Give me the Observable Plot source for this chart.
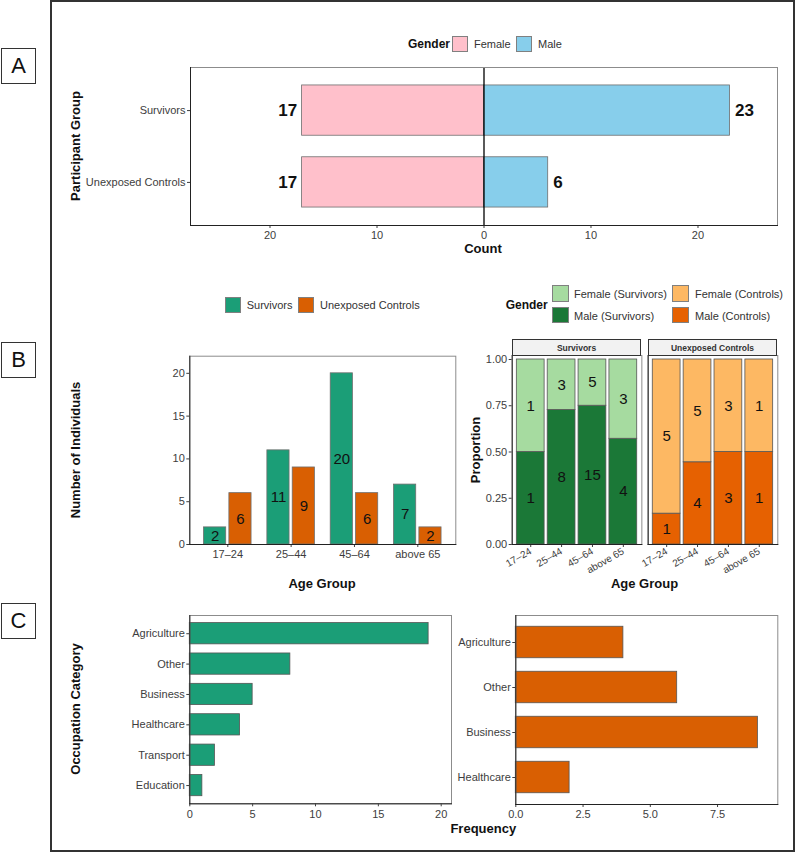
<!DOCTYPE html>
<html>
<head>
<meta charset="utf-8">
<script src="https://cdn.jsdelivr.net/npm/d3@7"></script>
<script src="https://cdn.jsdelivr.net/npm/@observablehq/plot@0.6"></script>
<style>
  body { margin: 0; background: #fff; font-family: "Liberation Sans", Arial, sans-serif; }
  #fig { position: relative; width: 797px; height: 853px; background: #fff; overflow: hidden; }
  #fig > * { position: absolute; }
  .txt { white-space: nowrap; line-height: 1; }
  .outer { left: 50px; top: 0; width: 745px; height: 852px; border: 2px solid #333; box-sizing: border-box; }
  .letter { width: 35px; height: 36px; box-sizing: border-box; border: 1px solid #333; font-size: 22px;
            display: flex; align-items: center; justify-content: center; color: #111; }
  .key { box-sizing: border-box; border: 1px solid #808080; }
  .strip { box-sizing: border-box; border: 1px solid #333; background: #f2f2f2; font-size: 8.5px; font-weight: bold;
           color: #333; display: flex; align-items: center; justify-content: center; }
</style>
</head>
<body>
<div id="fig"></div>
<script>
// ---- Data ----
const groups = ["Survivors", "Unexposed Controls"];
const femaleCounts = [17, 17];
const maleCounts = [23, 6];

const ageGroups = ["17–24", "25–44", "45–64", "above 65"];
const survivorsByAge = [2, 11, 20, 7];
const controlsByAge = [6, 9, 6, 2];

const survivorsMale = [1, 8, 15, 4];
const survivorsFemale = [1, 3, 5, 3];
const controlsMale = [1, 4, 3, 1];
const controlsFemale = [5, 5, 3, 1];

const genderCats = ["Female (Survivors)", "Male (Survivors)", "Female (Controls)", "Male (Controls)"];
const genderCatColors = ["#a6dba0", "#1b7837", "#fdb863", "#e66101"];

const occSurvivors = ["Agriculture", "Other", "Business", "Healthcare", "Transport", "Education"];
const occSurvivorsFreq = [19, 8, 5, 4, 2, 1];
const occControls = ["Agriculture", "Other", "Business", "Healthcare"];
const occControlsFreq = [4, 6, 9, 2];

const genderLabels = ["Female", "Male"];
const genderColors = ["#ffc0cb", "#87ceeb"];
const groupColors = ["#1b9e77", "#d95f02"];

// ---- Helpers ----
const fig = document.getElementById("fig");
function add(el, css) { Object.assign(el.style, css); fig.appendChild(el); return el; }
function div(cls, text) { const d = document.createElement("div"); d.className = cls; if (text != null) d.textContent = text; return d; }
function textAt(str, x, y, o = {}) {
  const t = o.rotate ? "translate(-50%,-50%) rotate(-90deg)" : (o.center ? "translate(-50%,-50%)" : "translate(0,-50%)");
  return add(div("txt", str), { left: x + "px", top: y + "px", fontSize: (o.size || 11) + "px",
    fontWeight: o.bold ? "bold" : "normal", color: o.color || "#333", transform: t });
}
function keyAt(color, x, y, w, h) {
  return add(div("key"), { left: x + "px", top: y + "px", width: w + "px", height: h + "px", background: color });
}
function mount(svg, x, y) { svg.style.left = x + "px"; svg.style.top = y + "px"; fig.appendChild(svg); }

const baseStyle = { fontFamily: "Liberation Sans, Arial, sans-serif", fontSize: "11px", color: "#3d3d3d",
                    background: "transparent", overflow: "visible" };
const panelFrame = () => [
  Plot.frame({ stroke: "#8c8c8c", strokeWidth: 1 }),
  Plot.frame({ anchor: "left", stroke: "#222", strokeWidth: 1 }),
  Plot.frame({ anchor: "bottom", stroke: "#222", strokeWidth: 1 })
];

// ---- Outer frame and panel letters ----
add(div("outer"), {});
[["A", 48], ["B", 342], ["C", 603]].forEach(([l, y]) => add(div("letter", l), { left: "1px", top: y + "px" }));

// ---- Panel A: diverging bars by gender ----
const aData = groups.flatMap((g, i) => [
  { group: g, gender: "Female", value: -femaleCounts[i], count: femaleCounts[i] },
  { group: g, gender: "Male", value: maleCounts[i], count: maleCounts[i] }
]);
mount(Plot.plot({
  width: 730, height: 210, marginLeft: 130, marginRight: 13, marginTop: 12, marginBottom: 40,
  style: baseStyle,
  x: { domain: [-27.43, 27.43], ticks: [-20, -10, 0, 10, 20], tickFormat: d => Math.abs(d), label: null, tickSize: 3, tickPadding: 3 },
  y: { domain: groups, paddingInner: 0.3, paddingOuter: 0.25, round: false, label: null, tickSize: 3, tickPadding: 2 },
  color: { domain: genderLabels, range: genderColors },
  marks: [
    Plot.barX(aData, { x1: 0, x2: "value", y: "group", fill: "gender", stroke: "#6e6e6e", strokeWidth: 0.8 }),
    Plot.ruleX([0], { stroke: "#000", strokeWidth: 1.3 }),
    Plot.text(aData.filter(d => d.gender === "Female"), { x: "value", y: "group", text: "count", textAnchor: "end", dx: -5,
      fontSize: 17, fontWeight: "bold", fill: "#111" }),
    Plot.text(aData.filter(d => d.gender === "Male"), { x: "value", y: "group", text: "count", textAnchor: "start", dx: 5,
      fontSize: 17, fontWeight: "bold", fill: "#111" }),
    ...panelFrame()
  ]
}), 60, 55);
textAt("Gender", 408, 44, { size: 12, bold: true, color: "#111" });
keyAt(genderColors[0], 452, 36, 16, 16); textAt(genderLabels[0], 474, 44);
keyAt(genderColors[1], 516, 36, 16, 16); textAt(genderLabels[1], 538, 44);
textAt("Participant Group", 75, 146, { size: 13, bold: true, rotate: true, color: "#111" });
textAt("Count", 483, 248, { size: 13, bold: true, center: true, color: "#111" });

// ---- Panel B (left): dodged bars by age group ----
const bW = 400, bML = 129.3, bMR = 4.7;
const bStep = (bW - bML - bMR) / 4.2;
const survAge = ageGroups.map((a, i) => ({ age: a, count: survivorsByAge[i] }));
const ctrlAge = ageGroups.map((a, i) => ({ age: a, count: controlsByAge[i] }));
mount(Plot.plot({
  width: bW, height: 270, marginLeft: bML, marginRight: bMR, marginTop: 30.7, marginBottom: 51,
  style: baseStyle,
  x: { domain: ageGroups, paddingInner: 0, paddingOuter: 0.1, round: false, label: null, tickSize: 3, tickPadding: 3 },
  y: { domain: [0, 22], ticks: [0, 5, 10, 15, 20], label: null, tickSize: 3, tickPadding: 2 },
  marks: [
    Plot.barY(survAge, { x: "age", y: "count", fill: groupColors[0], stroke: "#6e6e6e", strokeWidth: 0.8,
      insetLeft: bStep * 0.125, insetRight: bStep * 0.525 }),
    Plot.barY(ctrlAge, { x: "age", y: "count", fill: groupColors[1], stroke: "#6e6e6e", strokeWidth: 0.8,
      insetLeft: bStep * 0.525, insetRight: bStep * 0.125 }),
    Plot.text(survAge, { x: "age", y: d => d.count / 2, text: "count", dx: -bStep * 0.2, fontSize: 15, fill: "#111" }),
    Plot.text(ctrlAge, { x: "age", y: d => d.count / 2, text: "count", dx: bStep * 0.2, fontSize: 15, fill: "#111" }),
    ...panelFrame()
  ]
}), 60, 325);
keyAt(groupColors[0], 225, 296.7, 16, 16); textAt(groups[0], 246.7, 304.7);
keyAt(groupColors[1], 298.3, 296.7, 16, 16); textAt(groups[1], 320, 304.7);
textAt("Number of Individuals", 75, 450, { size: 13, bold: true, rotate: true, color: "#111" });
textAt("Age Group", 322, 583, { size: 13, bold: true, center: true, color: "#111" });

// ---- Panel B (right): gender proportions per age group, faceted by group ----
const propData = [];
ageGroups.forEach((a, i) => {
  propData.push({ group: groups[0], age: a, cat: genderCats[1], count: survivorsMale[i] });
  propData.push({ group: groups[1], age: a, cat: genderCats[3], count: controlsMale[i] });
});
ageGroups.forEach((a, i) => {
  propData.push({ group: groups[0], age: a, cat: genderCats[0], count: survivorsFemale[i] });
  propData.push({ group: groups[1], age: a, cat: genderCats[2], count: controlsFemale[i] });
});
const rW = 330, rML = 51.7, rMR = 12.7;
const fxPad = 0.0463;
mount(Plot.plot({
  width: rW, height: 265, marginLeft: rML, marginRight: rMR, marginTop: 25, marginBottom: 51,
  style: baseStyle,
  fx: { domain: groups, paddingInner: fxPad, paddingOuter: 0, round: false, axis: null, label: null },
  x: { domain: ageGroups, paddingInner: 0.1, paddingOuter: 0.15, round: false, axis: null },
  y: { domain: [0, 1.0216], ticks: [0, 0.25, 0.5, 0.75, 1], tickFormat: ".2f", label: null, tickSize: 3, tickPadding: 2 },
  color: { domain: genderCats, range: genderCatColors },
  marks: [
    Plot.barY(propData, Plot.stackY({ x: "age", y: "count", fx: "group", fill: "cat", offset: "normalize",
      stroke: "#555", strokeWidth: 0.8 })),
    Plot.text(propData, Plot.stackY({ x: "age", y: "count", fx: "group", z: "cat", offset: "normalize",
      text: "count", fontSize: 15, fill: "#111" })),
    Plot.axisX({ tickRotate: -30, fontSize: 10, tickSize: 3, tickPadding: 3, label: null }),
    ...panelFrame()
  ]
}), 460, 330);
// facet strips
{
  const innerW = rW - rML - rMR;
  const fStep = innerW / (2 - fxPad);
  const bandW = fStep * (1 - fxPad);
  groups.forEach((g, i) => {
    add(div("strip", g), { left: (460 + rML + i * fStep) + "px", top: "339.3px", width: bandW + "px", height: "16.5px" });
  });
}
textAt("Gender", 505.7, 305, { size: 12, bold: true, color: "#111" });
keyAt(genderCatColors[0], 552, 285.3, 16.5, 16.5); textAt(genderCats[0], 574, 294);
keyAt(genderCatColors[1], 552, 306.7, 16.5, 16.5); textAt(genderCats[1], 574, 315.5);
keyAt(genderCatColors[2], 672.3, 285.3, 16.5, 16.5); textAt(genderCats[2], 695, 294);
keyAt(genderCatColors[3], 672.3, 306.7, 16.5, 16.5); textAt(genderCats[3], 695, 315.5);
textAt("Proportion", 475, 450, { size: 13, bold: true, rotate: true, color: "#111" });
textAt("Age Group", 644.5, 583.3, { size: 13, bold: true, center: true, color: "#111" });

// ---- Panel C: occupation frequencies ----
const occS = occSurvivors.map((o, i) => ({ occ: o, freq: occSurvivorsFreq[i] }));
const occC = occControls.map((o, i) => ({ occ: o, freq: occControlsFreq[i] }));
mount(Plot.plot({
  width: 395, height: 230, marginLeft: 129.3, marginRight: 4, marginTop: 15, marginBottom: 26.7,
  style: baseStyle,
  x: { domain: [0, 20.82], ticks: [0, 5, 10, 15, 20], label: null, tickSize: 3, tickPadding: 3 },
  y: { domain: occSurvivors, paddingInner: 0.3, paddingOuter: 0.25, round: false, label: null, tickSize: 3, tickPadding: 2 },
  marks: [
    Plot.barX(occS, { x: "freq", y: "occ", fill: groupColors[0], stroke: "#555", strokeWidth: 0.8 }),
    ...panelFrame()
  ]
}), 60, 600);
mount(Plot.plot({
  width: 345, height: 230, marginLeft: 75.3, marginRight: 7.7, marginTop: 15, marginBottom: 26,
  style: baseStyle,
  x: { domain: [0, 9.74], ticks: [0, 2.5, 5, 7.5], tickFormat: ".1f", label: null, tickSize: 3, tickPadding: 3 },
  y: { domain: occControls, paddingInner: 0.3, paddingOuter: 0.25, round: false, label: null, tickSize: 3, tickPadding: 2 },
  marks: [
    Plot.barX(occC, { x: "freq", y: "occ", fill: groupColors[1], stroke: "#555", strokeWidth: 0.8 }),
    ...panelFrame()
  ]
}), 440, 600);
textAt("Occupation Category", 75, 709, { size: 13, bold: true, rotate: true, color: "#111" });
textAt("Frequency", 483.3, 827.7, { size: 13, bold: true, center: true, color: "#111" });
</script>
</body>
</html>
